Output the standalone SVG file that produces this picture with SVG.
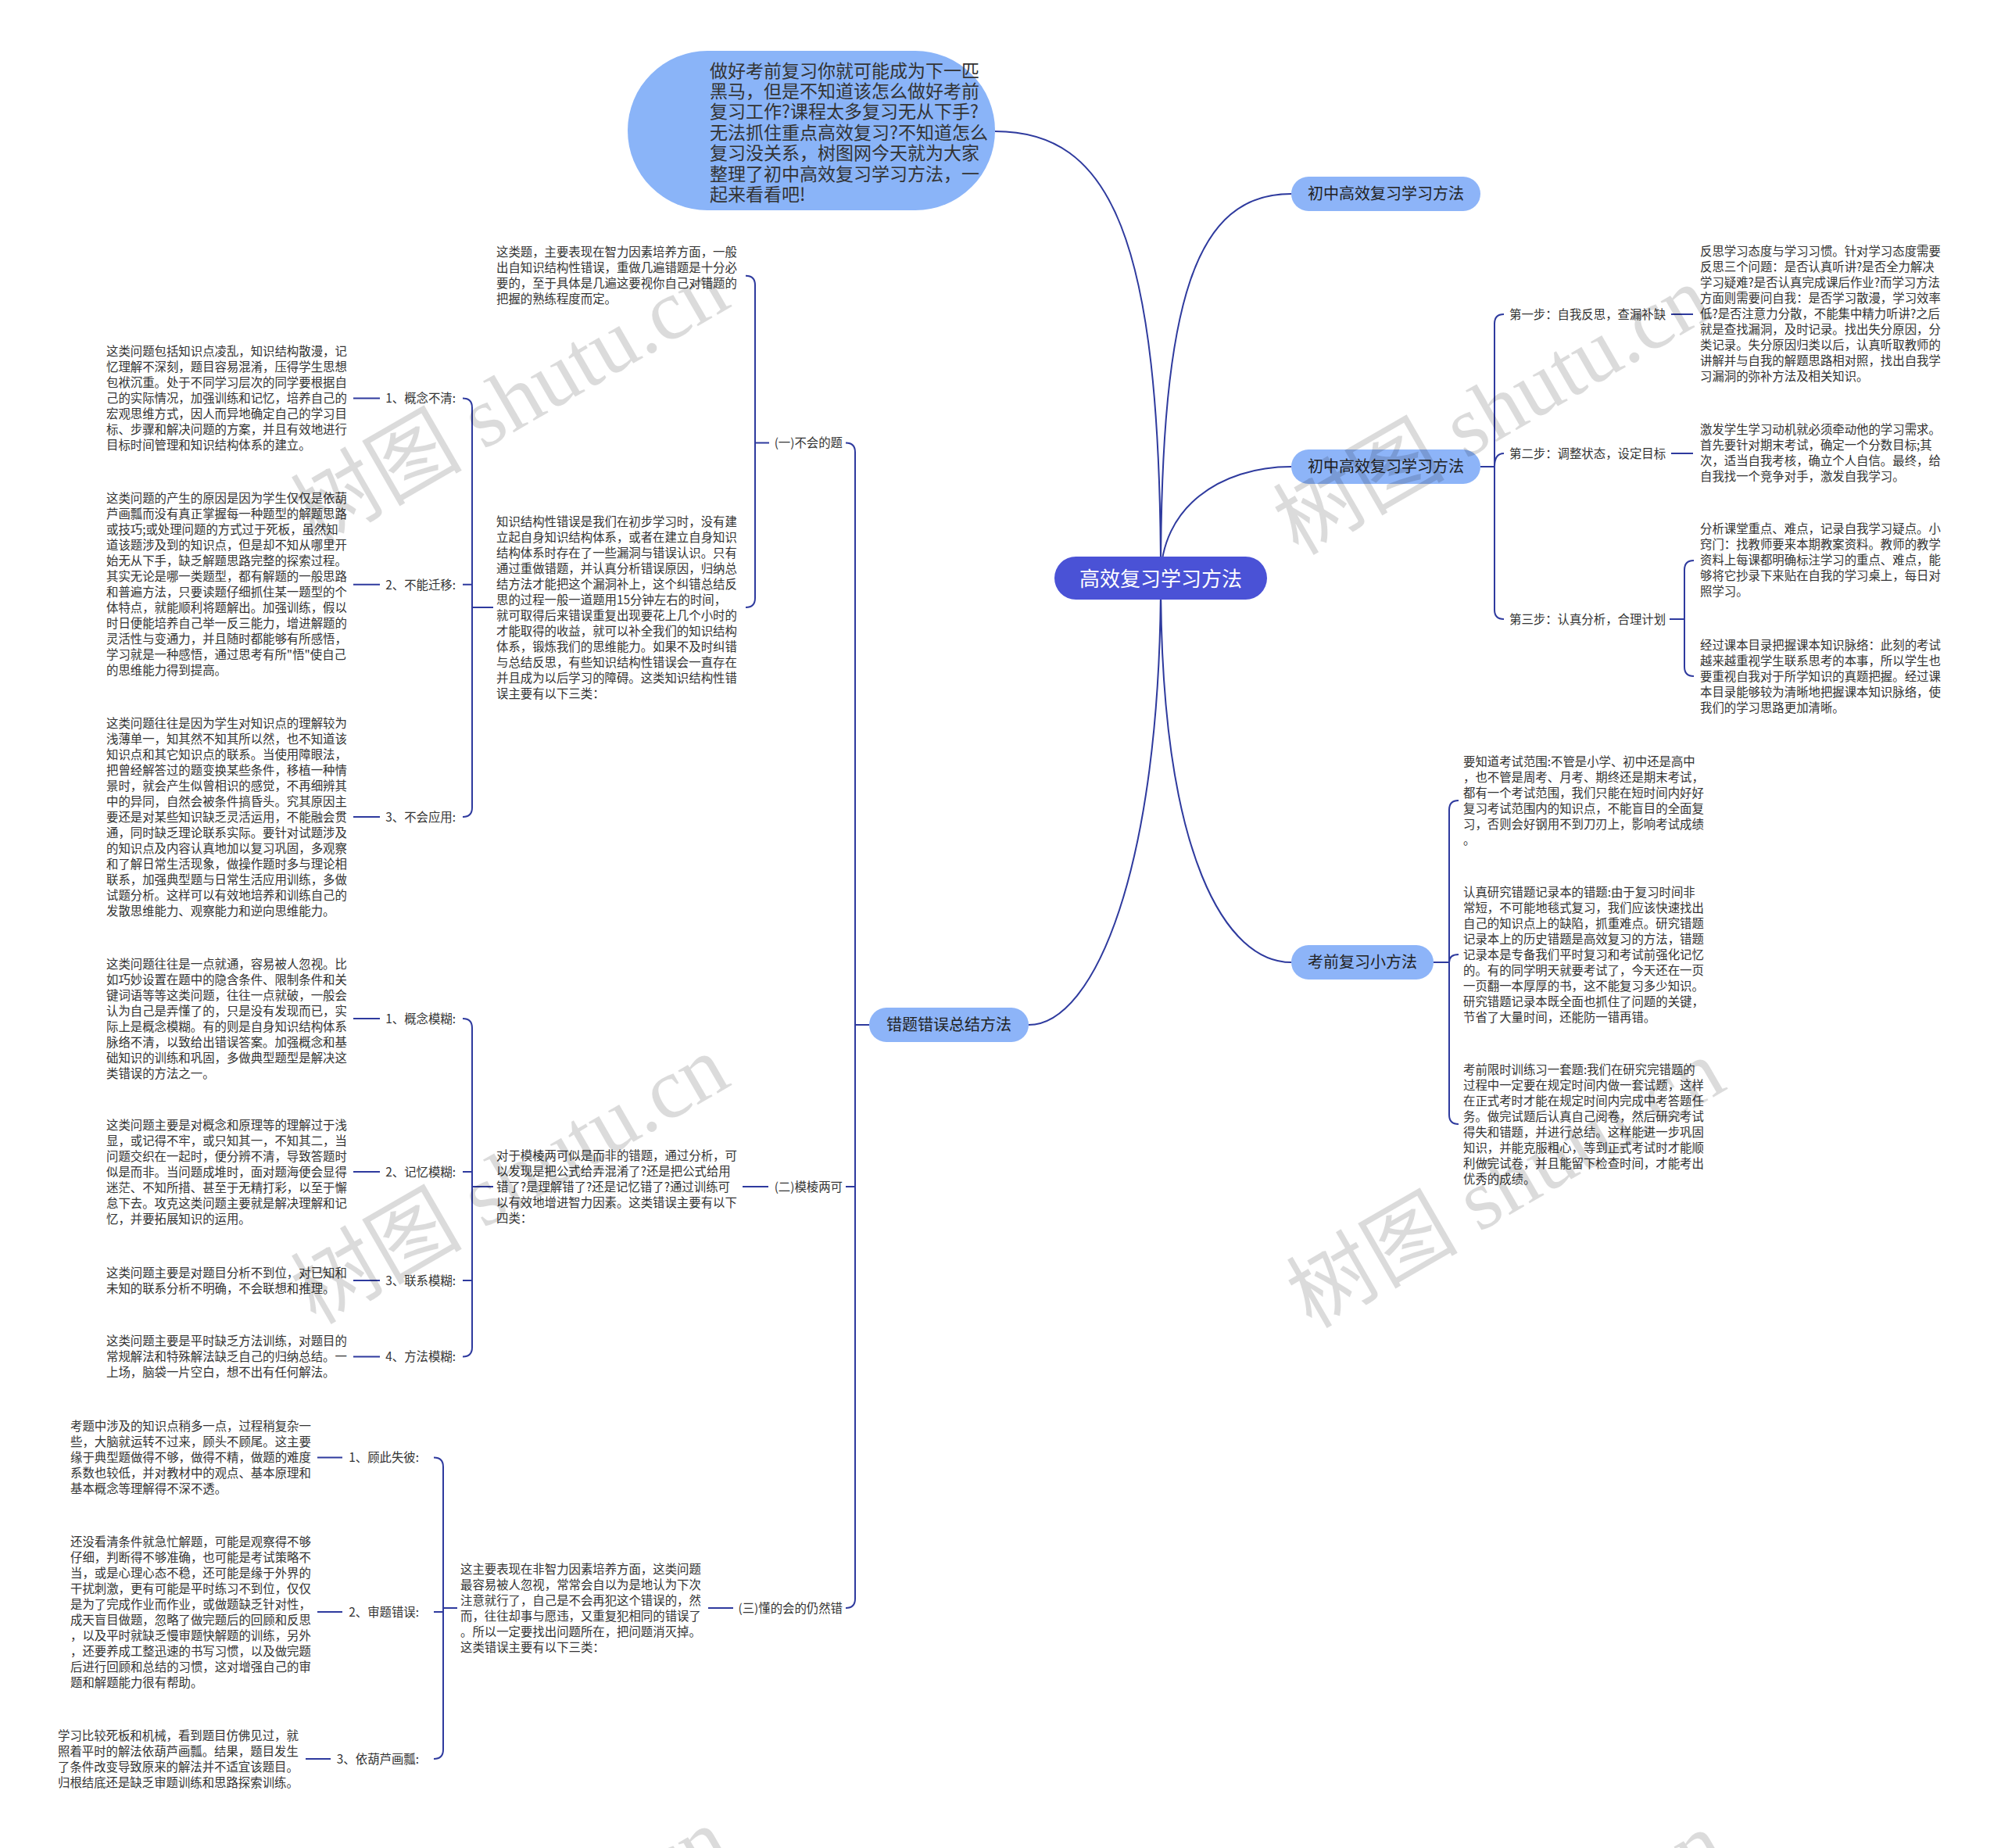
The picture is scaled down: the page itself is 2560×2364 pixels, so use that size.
<svg xmlns="http://www.w3.org/2000/svg" width="2560" height="2364" viewBox="0 0 2560 2364">
<style>
.ln{fill:none;stroke:#2E3A9E;stroke-width:2}
.t{font-family:'Noto Sans CJK SC','Noto Sans',sans-serif;font-size:15.4px;fill:#333}
.e{text-anchor:end}
.nb{fill:#8DB4F8}
.nt{font-family:'Noto Sans CJK SC','Noto Sans',sans-serif;font-size:20px;fill:#222;text-anchor:middle}
.wm{font-family:'Liberation Serif','Noto Sans CJK SC',serif;font-size:110px;fill:#000;fill-opacity:0.14;text-anchor:middle}
</style>
<rect width="2560" height="2364" fill="#fff"/>

<g id="connectors">
<path class="ln" d="M1485 740 C1485 300 1420 168 1273 168"/>
<path class="ln" d="M1485 740 C1485 380 1530 248 1652 248"/>
<path class="ln" d="M1485 740 C1485 650 1560 597 1652 597"/>
<path class="ln" d="M1485 740 C1485 1100 1570 1231 1652 1231"/>
<path class="ln" d="M1485 740 C1485 1110 1400 1311 1316 1311"/>
<!-- steps bracket -->
<path class="ln" d="M1894 597 L1912 597 M1924 402 Q1912 402 1912 414 L1912 780 Q1912 792 1924 792 M1912 597 Q1912 580 1924 580"/>
<path class="ln" d="M2138 402 L2166 402 M2138 580 L2166 580"/>
<path class="ln" d="M2136 792 L2155 792 M2167 717 Q2155 717 2155 729 L2155 853 Q2155 865 2167 865"/>
<!-- exam tips bracket -->
<path class="ln" d="M1834 1231 L1854 1231 M1866 1024 Q1854 1024 1854 1036 L1854 1426 Q1854 1438 1866 1438 M1854 1231 Q1854 1221 1866 1221"/>
<!-- left main bracket -->
<path class="ln" d="M1112 1311 L1094 1311 M1082 566.5 Q1094 566.5 1094 578.5 L1094 2045 Q1094 2057 1082 2057 M1094 1518 L1082 1518"/>
<!-- (一) bracket -->
<path class="ln" d="M984 566.5 L966 566.5 M954 352.7 Q966 352.7 966 364.7 L966 765 Q966 777 954 777"/>
<!-- 知识结构 bracket -->
<path class="ln" d="M631 777 L604 777 M592 509.4 Q604 509.4 604 521.4 L604 1033 Q604 1045 592 1045 M604 747.8 L592 747.8"/>
<path class="ln" d="M452 509.4 L486 509.4 M452 747.8 L486 747.8 M452 1045 L486 1045"/>
<!-- (二) -->
<path class="ln" d="M950 1518 L983 1518"/>
<path class="ln" d="M631 1518 L604 1518 M592 1303 Q604 1303 604 1315 L604 1723.6 Q604 1735.6 592 1735.6 M604 1499 L592 1499 M604 1638 L592 1638"/>
<path class="ln" d="M452 1303 L486 1303 M452 1499 L486 1499 M452 1638 L486 1638 M452 1735.6 L486 1735.6"/>
<!-- (三) -->
<path class="ln" d="M906 2057 L938 2057"/>
<path class="ln" d="M585 2057 L567 2057 M555 1864.5 Q567 1864.5 567 1876.5 L567 2238 Q567 2250 555 2250 M567 2062 L555 2062"/>
<path class="ln" d="M406 1864.5 L438 1864.5 M406 2062 L438 2062 M391 2250 L423 2250"/>
</g>

<g id="root-intro">
<rect x="803" y="65" width="470" height="204" rx="102" fill="#8AB4F8"/>
<text class="t" style="font-size:23px" x="908" y="98.5"><tspan x="908" y="98.5">做好考前复习你就可能成为下一匹</tspan><tspan x="908" dy="26.4">黑马，但是不知道该怎么做好考前</tspan><tspan x="908" dy="26.4">复习工作?课程太多复习无从下手?</tspan><tspan x="908" dy="26.4">无法抓住重点高效复习?不知道怎么</tspan><tspan x="908" dy="26.4">复习没关系，树图网今天就为大家</tspan><tspan x="908" dy="26.4">整理了初中高效复习学习方法，一</tspan><tspan x="908" dy="26.4">起来看看吧!</tspan></text>
</g>

<g id="center">
<rect x="1349" y="712" width="272" height="55" rx="27.5" fill="#4A52D6"/>
<text class="nt" style="font-size:26px;fill:#fff" x="1485" y="749.5">高效复习学习方法</text>
</g>

<g id="branch-top">
<rect class="nb" x="1652" y="226" width="242" height="44" rx="22"/>
<text class="nt" x="1773" y="255">初中高效复习学习方法</text>
</g>
<g id="branch-steps">
<rect class="nb" x="1652" y="575" width="242" height="44" rx="22"/>
<text class="nt" x="1773" y="604">初中高效复习学习方法</text>
</g>
<g id="branch-exam">
<rect class="nb" x="1652" y="1209" width="182" height="44" rx="22"/>
<text class="nt" x="1743" y="1238">考前复习小方法</text>
</g>
<g id="branch-errors">
<rect class="nb" x="1112" y="1289" width="204" height="44" rx="22"/>
<text class="nt" x="1214" y="1318">错题错误总结方法</text>
</g>

<g id="step1">
<text class="t" x="1931" y="407.5">第一步：自我反思，查漏补缺</text>
<text class="t" x="2175" y="327"><tspan x="2175" y="327">反思学习态度与学习习惯。针对学习态度需要</tspan><tspan x="2175" dy="20">反思三个问题：是否认真听讲?是否全力解决</tspan><tspan x="2175" dy="20">学习疑难?是否认真完成课后作业?而学习方法</tspan><tspan x="2175" dy="20">方面则需要问自我：是否学习散漫，学习效率</tspan><tspan x="2175" dy="20">低?是否注意力分散，不能集中精力听讲?之后</tspan><tspan x="2175" dy="20">就是查找漏洞，及时记录。找出失分原因，分</tspan><tspan x="2175" dy="20">类记录。失分原因归类以后，认真听取教师的</tspan><tspan x="2175" dy="20">讲解并与自我的解题思路相对照，找出自我学</tspan><tspan x="2175" dy="20">习漏洞的弥补方法及相关知识。</tspan></text>
</g>
<g id="step2">
<text class="t" x="1931" y="585.5">第二步：调整状态，设定目标</text>
<text class="t" x="2175" y="555"><tspan x="2175" y="555">激发学生学习动机就必须牵动他的学习需求。</tspan><tspan x="2175" dy="20">首先要针对期末考试，确定一个分数目标;其</tspan><tspan x="2175" dy="20">次，适当自我考核，确立个人自信。最终，给</tspan><tspan x="2175" dy="20">自我找一个竞争对手，激发自我学习。</tspan></text>
</g>
<g id="step3">
<text class="t" x="1931" y="797.5">第三步：认真分析，合理计划</text>
<text class="t" x="2175" y="682"><tspan x="2175" y="682">分析课堂重点、难点，记录自我学习疑点。小</tspan><tspan x="2175" dy="20">窍门：找教师要来本期教案资料。教师的教学</tspan><tspan x="2175" dy="20">资料上每课都明确标注学习的重点、难点，能</tspan><tspan x="2175" dy="20">够将它抄录下来贴在自我的学习桌上，每日对</tspan><tspan x="2175" dy="20">照学习。</tspan></text>
<text class="t" x="2175" y="831"><tspan x="2175" y="831">经过课本目录把握课本知识脉络：此刻的考试</tspan><tspan x="2175" dy="20">越来越重视学生联系思考的本事，所以学生也</tspan><tspan x="2175" dy="20">要重视自我对于所学知识的真题把握。经过课</tspan><tspan x="2175" dy="20">本目录能够较为清晰地把握课本知识脉络，使</tspan><tspan x="2175" dy="20">我们的学习思路更加清晰。</tspan></text>
</g>

<g id="exam-tips">
<text class="t" x="1872" y="980"><tspan x="1872" y="980">要知道考试范围:不管是小学、初中还是高中</tspan><tspan x="1872" dy="20">，也不管是周考、月考、期终还是期末考试，</tspan><tspan x="1872" dy="20">都有一个考试范围，我们只能在短时间内好好</tspan><tspan x="1872" dy="20">复习考试范围内的知识点，不能盲目的全面复</tspan><tspan x="1872" dy="20">习，否则会好钢用不到刀刃上，影响考试成绩</tspan><tspan x="1872" dy="20">。</tspan></text>
<text class="t" x="1872" y="1147"><tspan x="1872" y="1147">认真研究错题记录本的错题:由于复习时间非</tspan><tspan x="1872" dy="20">常短，不可能地毯式复习，我们应该快速找出</tspan><tspan x="1872" dy="20">自己的知识点上的缺陷，抓重难点。研究错题</tspan><tspan x="1872" dy="20">记录本上的历史错题是高效复习的方法，错题</tspan><tspan x="1872" dy="20">记录本是专备我们平时复习和考试前强化记忆</tspan><tspan x="1872" dy="20">的。有的同学明天就要考试了，今天还在一页</tspan><tspan x="1872" dy="20">一页翻一本厚厚的书，这不能复习多少知识。</tspan><tspan x="1872" dy="20">研究错题记录本既全面也抓住了问题的关键，</tspan><tspan x="1872" dy="20">节省了大量时间，还能防一错再错。</tspan></text>
<text class="t" x="1872" y="1374"><tspan x="1872" y="1374">考前限时训练习一套题:我们在研究完错题的</tspan><tspan x="1872" dy="20">过程中一定要在规定时间内做一套试题，这样</tspan><tspan x="1872" dy="20">在正式考时才能在规定时间内完成中考答题任</tspan><tspan x="1872" dy="20">务。做完试题后认真自己阅卷，然后研究考试</tspan><tspan x="1872" dy="20">得失和错题，并进行总结。这样能进一步巩固</tspan><tspan x="1872" dy="20">知识，并能克服粗心，等到正式考试时才能顺</tspan><tspan x="1872" dy="20">利做完试卷，并且能留下检查时间，才能考出</tspan><tspan x="1872" dy="20">优秀的成绩。</tspan></text>
</g>

<g id="cat1">
<text class="t e" x="1078" y="572">(一)不会的题</text>
<text class="t" x="635" y="328"><tspan x="635" y="328">这类题，主要表现在智力因素培养方面，一般</tspan><tspan x="635" dy="20">出自知识结构性错误，重做几遍错题是十分必</tspan><tspan x="635" dy="20">要的，至于具体是几遍这要视你自己对错题的</tspan><tspan x="635" dy="20">把握的熟练程度而定。</tspan></text>
<text class="t" x="635" y="673"><tspan x="635" y="673">知识结构性错误是我们在初步学习时，没有建</tspan><tspan x="635" dy="20">立起自身知识结构体系，或者在建立自身知识</tspan><tspan x="635" dy="20">结构体系时存在了一些漏洞与错误认识。只有</tspan><tspan x="635" dy="20">通过重做错题，并认真分析错误原因，归纳总</tspan><tspan x="635" dy="20">结方法才能把这个漏洞补上，这个纠错总结反</tspan><tspan x="635" dy="20">思的过程一般一道题用15分钟左右的时间，</tspan><tspan x="635" dy="20">就可取得后来错误重复出现要花上几个小时的</tspan><tspan x="635" dy="20">才能取得的收益，就可以补全我们的知识结构</tspan><tspan x="635" dy="20">体系，锻炼我们的思维能力。如果不及时纠错</tspan><tspan x="635" dy="20">与总结反思，有些知识结构性错误会一直存在</tspan><tspan x="635" dy="20">并且成为以后学习的障碍。这类知识结构性错</tspan><tspan x="635" dy="20">误主要有以下三类：</tspan></text>
<text class="t e" x="583" y="515">1、概念不清:</text>
<text class="t e" x="583" y="753.5">2、不能迁移:</text>
<text class="t e" x="583" y="1050.5">3、不会应用:</text>
<text class="t" x="136" y="455"><tspan x="136" y="455">这类问题包括知识点凌乱，知识结构散漫，记</tspan><tspan x="136" dy="20">忆理解不深刻，题目容易混淆，压得学生思想</tspan><tspan x="136" dy="20">包袱沉重。处于不同学习层次的同学要根据自</tspan><tspan x="136" dy="20">己的实际情况，加强训练和记忆，培养自己的</tspan><tspan x="136" dy="20">宏观思维方式，因人而异地确定自己的学习目</tspan><tspan x="136" dy="20">标、步骤和解决问题的方案，并且有效地进行</tspan><tspan x="136" dy="20">目标时间管理和知识结构体系的建立。</tspan></text>
<text class="t" x="136" y="643"><tspan x="136" y="643">这类问题的产生的原因是因为学生仅仅是依葫</tspan><tspan x="136" dy="20">芦画瓢而没有真正掌握每一种题型的解题思路</tspan><tspan x="136" dy="20">或技巧;或处理问题的方式过于死板，虽然知</tspan><tspan x="136" dy="20">道该题涉及到的知识点，但是却不知从哪里开</tspan><tspan x="136" dy="20">始无从下手，缺乏解题思路完整的探索过程。</tspan><tspan x="136" dy="20">其实无论是哪一类题型，都有解题的一般思路</tspan><tspan x="136" dy="20">和普遍方法，只要读题仔细抓住某一题型的个</tspan><tspan x="136" dy="20">体特点，就能顺利将题解出。加强训练，假以</tspan><tspan x="136" dy="20">时日便能培养自己举一反三能力，增进解题的</tspan><tspan x="136" dy="20">灵活性与变通力，并且随时都能够有所感悟，</tspan><tspan x="136" dy="20">学习就是一种感悟，通过思考有所"悟"使自己</tspan><tspan x="136" dy="20">的思维能力得到提高。</tspan></text>
<text class="t" x="136" y="931"><tspan x="136" y="931">这类问题往往是因为学生对知识点的理解较为</tspan><tspan x="136" dy="20">浅薄单一，知其然不知其所以然，也不知道该</tspan><tspan x="136" dy="20">知识点和其它知识点的联系。当使用障眼法，</tspan><tspan x="136" dy="20">把曾经解答过的题变换某些条件，移植一种情</tspan><tspan x="136" dy="20">景时，就会产生似曾相识的感觉，不再细辨其</tspan><tspan x="136" dy="20">中的异同，自然会被条件搞昏头。究其原因主</tspan><tspan x="136" dy="20">要还是对某些知识缺乏灵活运用，不能融会贯</tspan><tspan x="136" dy="20">通，同时缺乏理论联系实际。要针对试题涉及</tspan><tspan x="136" dy="20">的知识点及内容认真地加以复习巩固，多观察</tspan><tspan x="136" dy="20">和了解日常生活现象，做操作题时多与理论相</tspan><tspan x="136" dy="20">联系，加强典型题与日常生活应用训练，多做</tspan><tspan x="136" dy="20">试题分析。这样可以有效地培养和训练自己的</tspan><tspan x="136" dy="20">发散思维能力、观察能力和逆向思维能力。</tspan></text>
</g>

<g id="cat2">
<text class="t e" x="1078" y="1523.5">(二)模棱两可</text>
<text class="t" x="635" y="1484"><tspan x="635" y="1484">对于模棱两可似是而非的错题，通过分析，可</tspan><tspan x="635" dy="20">以发现是把公式给弄混淆了?还是把公式给用</tspan><tspan x="635" dy="20">错了?是理解错了?还是记忆错了?通过训练可</tspan><tspan x="635" dy="20">以有效地增进智力因素。这类错误主要有以下</tspan><tspan x="635" dy="20">四类：</tspan></text>
<text class="t e" x="583" y="1308.5">1、概念模糊:</text>
<text class="t e" x="583" y="1504.5">2、记忆模糊:</text>
<text class="t e" x="583" y="1643.5">3、联系模糊:</text>
<text class="t e" x="583" y="1741">4、方法模糊:</text>
<text class="t" x="136" y="1239"><tspan x="136" y="1239">这类问题往往是一点就通，容易被人忽视。比</tspan><tspan x="136" dy="20">如巧妙设置在题中的隐含条件、限制条件和关</tspan><tspan x="136" dy="20">键词语等等这类问题，往往一点就破，一般会</tspan><tspan x="136" dy="20">认为自己是弄懂了的，只是没有发现而已，实</tspan><tspan x="136" dy="20">际上是概念模糊。有的则是自身知识结构体系</tspan><tspan x="136" dy="20">脉络不清，以致给出错误答案。加强概念和基</tspan><tspan x="136" dy="20">础知识的训练和巩固，多做典型题型是解决这</tspan><tspan x="136" dy="20">类错误的方法之一。</tspan></text>
<text class="t" x="136" y="1445"><tspan x="136" y="1445">这类问题主要是对概念和原理等的理解过于浅</tspan><tspan x="136" dy="20">显，或记得不牢，或只知其一，不知其二，当</tspan><tspan x="136" dy="20">问题交织在一起时，便分辨不清，导致答题时</tspan><tspan x="136" dy="20">似是而非。当问题成堆时，面对题海便会显得</tspan><tspan x="136" dy="20">迷茫、不知所措、甚至于无精打彩，以至于懈</tspan><tspan x="136" dy="20">怠下去。攻克这类问题主要就是解决理解和记</tspan><tspan x="136" dy="20">忆，并要拓展知识的运用。</tspan></text>
<text class="t" x="136" y="1634"><tspan x="136" y="1634">这类问题主要是对题目分析不到位，对已知和</tspan><tspan x="136" dy="20">未知的联系分析不明确，不会联想和推理。</tspan></text>
<text class="t" x="136" y="1721"><tspan x="136" y="1721">这类问题主要是平时缺乏方法训练，对题目的</tspan><tspan x="136" dy="20">常规解法和特殊解法缺乏自己的归纳总结。一</tspan><tspan x="136" dy="20">上场，脑袋一片空白，想不出有任何解法。</tspan></text>
</g>

<g id="cat3">
<text class="t e" x="1078" y="2062.5">(三)懂的会的仍然错</text>
<text class="t" x="589" y="2013"><tspan x="589" y="2013">这主要表现在非智力因素培养方面，这类问题</tspan><tspan x="589" dy="20">最容易被人忽视，常常会自以为是地认为下次</tspan><tspan x="589" dy="20">注意就行了，自己是不会再犯这个错误的，然</tspan><tspan x="589" dy="20">而，往往却事与愿违，又重复犯相同的错误了</tspan><tspan x="589" dy="20">。所以一定要找出问题所在，把问题消灭掉。</tspan><tspan x="589" dy="20">这类错误主要有以下三类：</tspan></text>
<text class="t e" x="536" y="1870">1、顾此失彼:</text>
<text class="t e" x="536" y="2067.5">2、审题错误:</text>
<text class="t e" x="536" y="2255.5">3、依葫芦画瓢:</text>
<text class="t" x="90" y="1830"><tspan x="90" y="1830">考题中涉及的知识点稍多一点，过程稍复杂一</tspan><tspan x="90" dy="20">些，大脑就运转不过来，顾头不顾尾。这主要</tspan><tspan x="90" dy="20">缘于典型题做得不够，做得不精，做题的难度</tspan><tspan x="90" dy="20">系数也较低，并对教材中的观点、基本原理和</tspan><tspan x="90" dy="20">基本概念等理解得不深不透。</tspan></text>
<text class="t" x="90" y="1978"><tspan x="90" y="1978">还没看清条件就急忙解题，可能是观察得不够</tspan><tspan x="90" dy="20">仔细，判断得不够准确，也可能是考试策略不</tspan><tspan x="90" dy="20">当，或是心理心态不稳，还可能是缘于外界的</tspan><tspan x="90" dy="20">干扰刺激，更有可能是平时练习不到位，仅仅</tspan><tspan x="90" dy="20">是为了完成作业而作业，或做题缺乏针对性，</tspan><tspan x="90" dy="20">成天盲目做题，忽略了做完题后的回顾和反思</tspan><tspan x="90" dy="20">，以及平时就缺乏慢审题快解题的训练，另外</tspan><tspan x="90" dy="20">，还要养成工整迅速的书写习惯，以及做完题</tspan><tspan x="90" dy="20">后进行回顾和总结的习惯，这对增强自己的审</tspan><tspan x="90" dy="20">题和解题能力很有帮助。</tspan></text>
<text class="t" x="74" y="2226"><tspan x="74" y="2226">学习比较死板和机械，看到题目仿佛见过，就</tspan><tspan x="74" dy="20">照着平时的解法依葫芦画瓢。结果，题目发生</tspan><tspan x="74" dy="20">了条件改变导致原来的解法并不适宜该题目。</tspan><tspan x="74" dy="20">归根结底还是缺乏审题训练和思路探索训练。</tspan></text>
</g>

<g id="watermarks">
<text class="wm" x="653" y="550" transform="rotate(-30 653 514)">树图 shutu.cn</text>
<text class="wm" x="1910" y="562" transform="rotate(-30 1910 526)">树图 shutu.cn</text>
<text class="wm" x="653" y="1546" transform="rotate(-30 653 1510)">树图 shutu.cn</text>
<text class="wm" x="1927" y="1551" transform="rotate(-30 1927 1515)">树图 shutu.cn</text>
<text class="wm" x="653" y="2534" transform="rotate(-30 653 2498)">树图 shutu.cn</text>
<text class="wm" x="1927" y="2539" transform="rotate(-30 1927 2503)">树图 shutu.cn</text>
</g>
</svg>
